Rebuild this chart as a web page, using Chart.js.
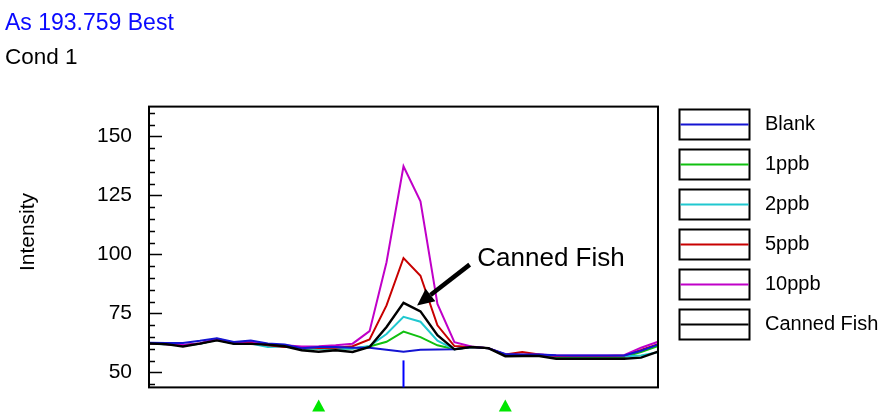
<!DOCTYPE html>
<html><head><meta charset="utf-8">
<script src="https://cdn.jsdelivr.net/npm/chart.js@4.4.1/dist/chart.umd.min.js"></script>
<style>html,body{margin:0;padding:0;background:#fff;}#wrap{position:relative;width:883px;height:417px;}</style>
</head><body><div id="wrap"><canvas id="c" width="883" height="417"></canvas></div>
<script>
// ---- data ----
const scanPoints = ['1','2','3','4','5','6','7','8','9','10','11','12','13','14','15','16','17','18','19','20','21','22','23','24','25','26','27','28','29','30','31'];
const seriesNames = ['Blank','1ppb','2ppb','5ppb','10ppb','Canned Fish'];
const blank      = [62.6,62.5,62.5,63.4,64.5,62.9,63.5,62.3,61.9,60.3,60.8,60.8,60.5,60.5,59.6,58.8,59.6,59.7,59.8,60.8,60.3,57.8,57.6,57.6,57.3,57.2,57.2,57.2,57.2,59.2,61.8];
const ppb1       = [62.3,62.0,61.4,62.2,63.8,62.3,62.4,61.5,61.1,60.1,60.1,60.1,60.2,61.0,63.0,67.3,65.0,61.5,59.8,60.8,60.3,57.3,57.3,57.5,56.5,56.5,56.5,56.5,56.6,58.7,61.2];
const ppb2       = [62.4,61.9,61.5,62.2,63.8,62.3,62.3,60.8,61.0,60.3,60.1,60.1,60.2,61.2,66.3,73.6,71.5,63.5,59.8,60.8,60.3,57.4,57.3,57.5,56.9,56.9,56.9,56.9,56.9,57.2,58.6];
const ppb5       = [62.4,62.0,61.5,62.3,64.0,62.5,62.9,61.5,60.8,60.8,60.4,60.5,61.1,64.0,78.4,98.5,91.0,70.0,61.2,60.8,60.3,57.6,58.7,57.6,57.0,57.0,57.0,57.0,57.2,59.5,62.0];
const ppb10      = [62.4,62.0,61.6,62.3,64.3,62.6,63.2,61.8,61.5,61.0,61.1,61.5,62.2,67.5,96.7,137.4,122.5,79.0,62.8,61.0,60.3,57.5,57.5,57.6,57.2,57.2,57.2,57.2,57.3,60.5,63.0];
const cannedFish = [62.3,62.0,61.0,62.2,63.6,62.1,62.1,61.8,61.1,59.4,58.8,59.4,58.7,60.8,69.3,79.5,75.9,65.8,59.8,60.8,60.3,56.9,57.0,57.0,55.8,55.8,55.8,55.8,55.8,56.3,58.8];
const yMajorTicks = [50,75,100,125,150];
const yMinorStep = 5;
const peakIndex = 15;
const windowIndices = [10,21];
// annotation anchor in data coordinates: [index, value]
const arrowTip = [15.8, 78.4];
const arrowTail = [18.9, 95.7];
const annotationText = 'Canned Fish';
const annotationPos = [19.35, 98.1];

const colors = ['#1414d2','#10c010','#20c8d0','#c80000','#c000c8','#000000'];
const FONT = 'Liberation Sans, Arial, sans-serif';

const allSeries = [blank, ppb1, ppb2, ppb5, ppb10, cannedFish];
const drawOrder = [1,5,4,3,2,0]; // lower = on top
const datasets = allSeries.map((d,i)=>({
  label: seriesNames[i], data: d, borderColor: colors[i], backgroundColor: colors[i],
  borderWidth: i===5?2.4:2, pointRadius:0, tension:0, fill:false, order: drawOrder[i]
}));

const decor = {
  id:'decor',
  afterDatasetsDraw(chart){
    const ctx = chart.ctx, a = chart.chartArea, xs = chart.scales.x, ys = chart.scales.y;
    ctx.save();
    // frame
    ctx.strokeStyle='#000'; ctx.lineWidth=2;
    ctx.strokeRect(a.left, a.top, a.right-a.left, a.bottom-a.top);
    // inward ticks
    ctx.lineWidth=1.5;
    for(let v=Math.ceil(ys.min/yMinorStep)*yMinorStep; v<=ys.max; v+=yMinorStep){
      const y = Math.round(ys.getPixelForValue(v))+0.5;
      const len = (v%25===0)?13:6;
      ctx.beginPath(); ctx.moveTo(a.left, y); ctx.lineTo(a.left+len, y); ctx.stroke();
    }
    // peak marker
    const px = xs.getPixelForValue(peakIndex);
    ctx.strokeStyle='#0000ff'; ctx.lineWidth=2;
    ctx.beginPath(); ctx.moveTo(px, a.bottom); ctx.lineTo(px, a.bottom-27); ctx.stroke();
    // window triangles
    ctx.fillStyle='#00e600';
    windowIndices.forEach(ix=>{
      const x = xs.getPixelForValue(ix);
      ctx.beginPath(); ctx.moveTo(x, a.bottom+12); ctx.lineTo(x-6.5, a.bottom+24); ctx.lineTo(x+6.5, a.bottom+24); ctx.closePath(); ctx.fill();
    });
    // arrow annotation
    const tx = xs.getPixelForValue(arrowTip[0]), ty = ys.getPixelForValue(arrowTip[1]);
    const sx = xs.getPixelForValue(arrowTail[0]), sy = ys.getPixelForValue(arrowTail[1]);
    const ang = Math.atan2(ty-sy, tx-sx), hl = 17, hw = 8;
    const bx = tx - hl*Math.cos(ang), by = ty - hl*Math.sin(ang);
    ctx.strokeStyle='#000'; ctx.lineWidth=4.5; ctx.lineCap='butt';
    ctx.beginPath(); ctx.moveTo(sx, sy); ctx.lineTo(bx, by); ctx.stroke();
    ctx.fillStyle='#000';
    ctx.beginPath(); ctx.moveTo(tx, ty);
    ctx.lineTo(bx + hw*Math.sin(ang), by - hw*Math.cos(ang));
    ctx.lineTo(bx - hw*Math.sin(ang), by + hw*Math.cos(ang));
    ctx.closePath(); ctx.fill();
    ctx.font = '26px ' + FONT; ctx.textBaseline='middle'; ctx.textAlign='left';
    ctx.fillText(annotationText, xs.getPixelForValue(annotationPos[0]), ys.getPixelForValue(annotationPos[1]));
    ctx.restore();
  },
  afterDraw(chart){
    const ctx = chart.ctx;
    ctx.save();
    // legend
    ctx.font = '20px ' + FONT; ctx.textBaseline='middle'; ctx.textAlign='left';
    seriesNames.forEach((n,i)=>{
      const top = 109.5 + i*40, cy = top+15;
      ctx.strokeStyle='#000'; ctx.lineWidth=2;
      ctx.strokeRect(679.5, top, 70, 30);
      ctx.strokeStyle=colors[i]; ctx.lineWidth=2;
      ctx.beginPath(); ctx.moveTo(680.5, cy); ctx.lineTo(748.5, cy); ctx.stroke();
      ctx.fillStyle='#000';
      ctx.fillText(n, 765, cy);
    });
    // y-axis title
    ctx.translate(28, 232); ctx.rotate(-Math.PI/2);
    ctx.font = '21px ' + FONT; ctx.textAlign='center'; ctx.fillStyle='#000';
    ctx.fillText('Intensity', 0, 0);
    ctx.restore();
  }
};

new Chart(document.getElementById('c'), {
  type:'line',
  data:{ labels: scanPoints, datasets },
  options:{
    responsive:false, animation:false, devicePixelRatio:1,
    layout:{ padding:{ left:5, right:225, top:0, bottom:28 } },
    plugins:{
      legend:{display:false}, tooltip:{enabled:false},
      title:{display:true, text:'As 193.759 Best', align:'start', color:'#0a0aff',
        font:{family:FONT, size:23, weight:'normal'}, padding:{top:10, bottom:0}},
      subtitle:{display:true, text:'Cond 1', align:'start', color:'#000',
        font:{family:FONT, size:22.5, weight:'normal'}, padding:{top:7, bottom:35}}
    },
    scales:{
      x:{ display:false, offset:false },
      y:{ min:43.67, max:162.66,
        afterBuildTicks:(s)=>{ s.ticks = yMajorTicks.map(v=>({value:v})); },
        afterFit:(s)=>{ s.width = 144; },
        grid:{display:false, drawTicks:false}, border:{display:false},
        ticks:{ color:'#000', padding:17, font:{family:FONT, size:21} } }
    }
  },
  plugins:[decor]
});
</script></body></html>
